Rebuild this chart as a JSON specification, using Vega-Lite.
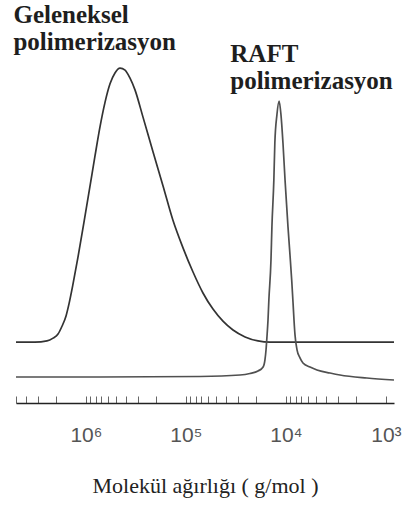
{
  "$schema": "https://vega.github.io/schema/vega-lite/v6.json",
  "width": 378,
  "height": 403,
  "autosize": "none",
  "padding": {"left": 16, "top": 0, "right": 14, "bottom": 108},
  "background": "white",
  "config": {"view": {"stroke": null}},
  "datasets": {
    "egriler": [
      {"seri": "Geleneksel", "mw": 5000000, "sinyal": 15.1},
      {"seri": "Geleneksel", "mw": 3230000, "sinyal": 15.1},
      {"seri": "Geleneksel", "mw": 2450000, "sinyal": 15.4},
      {"seri": "Geleneksel", "mw": 2130000, "sinyal": 16.1},
      {"seri": "Geleneksel", "mw": 1900000, "sinyal": 17.1},
      {"seri": "Geleneksel", "mw": 1730000, "sinyal": 19.1},
      {"seri": "Geleneksel", "mw": 1580000, "sinyal": 21.6},
      {"seri": "Geleneksel", "mw": 1476000, "sinyal": 24.6},
      {"seri": "Geleneksel", "mw": 1346000, "sinyal": 29.5},
      {"seri": "Geleneksel", "mw": 1200000, "sinyal": 36.2},
      {"seri": "Geleneksel", "mw": 1045000, "sinyal": 44.9},
      {"seri": "Geleneksel", "mw": 910000, "sinyal": 53.8},
      {"seri": "Geleneksel", "mw": 811000, "sinyal": 61.3},
      {"seri": "Geleneksel", "mw": 723000, "sinyal": 68.5},
      {"seri": "Geleneksel", "mw": 644000, "sinyal": 74.6},
      {"seri": "Geleneksel", "mw": 574000, "sinyal": 79.2},
      {"seri": "Geleneksel", "mw": 512000, "sinyal": 81.9},
      {"seri": "Geleneksel", "mw": 456000, "sinyal": 83.1},
      {"seri": "Geleneksel", "mw": 406000, "sinyal": 82.6},
      {"seri": "Geleneksel", "mw": 362000, "sinyal": 80.6},
      {"seri": "Geleneksel", "mw": 323000, "sinyal": 77.7},
      {"seri": "Geleneksel", "mw": 269000, "sinyal": 71.0},
      {"seri": "Geleneksel", "mw": 213000, "sinyal": 62.3},
      {"seri": "Geleneksel", "mw": 169000, "sinyal": 53.8},
      {"seri": "Geleneksel", "mw": 135000, "sinyal": 45.4},
      {"seri": "Geleneksel", "mw": 106900, "sinyal": 38.5},
      {"seri": "Geleneksel", "mw": 84900, "sinyal": 32.5},
      {"seri": "Geleneksel", "mw": 67500, "sinyal": 27.3},
      {"seri": "Geleneksel", "mw": 53600, "sinyal": 23.3},
      {"seri": "Geleneksel", "mw": 42600, "sinyal": 20.3},
      {"seri": "Geleneksel", "mw": 33800, "sinyal": 18.1},
      {"seri": "Geleneksel", "mw": 25600, "sinyal": 16.4},
      {"seri": "Geleneksel", "mw": 19000, "sinyal": 15.4},
      {"seri": "Geleneksel", "mw": 14400, "sinyal": 15.1},
      {"seri": "Geleneksel", "mw": 7230, "sinyal": 15.1},
      {"seri": "Geleneksel", "mw": 2290, "sinyal": 15.1},
      {"seri": "Geleneksel", "mw": 830, "sinyal": 15.1},
      {"seri": "RAFT", "mw": 5000000, "sinyal": 6.45},
      {"seri": "RAFT", "mw": 723000, "sinyal": 6.45},
      {"seri": "RAFT", "mw": 72300, "sinyal": 6.58},
      {"seri": "RAFT", "mw": 28800, "sinyal": 6.95},
      {"seri": "RAFT", "mw": 22900, "sinyal": 7.32},
      {"seri": "RAFT", "mw": 19000, "sinyal": 7.94},
      {"seri": "RAFT", "mw": 16900, "sinyal": 8.93},
      {"seri": "RAFT", "mw": 16200, "sinyal": 10.7},
      {"seri": "RAFT", "mw": 15800, "sinyal": 13.2},
      {"seri": "RAFT", "mw": 15500, "sinyal": 16.1},
      {"seri": "RAFT", "mw": 15100, "sinyal": 20.6},
      {"seri": "RAFT", "mw": 14800, "sinyal": 25.6},
      {"seri": "RAFT", "mw": 14100, "sinyal": 35.5},
      {"seri": "RAFT", "mw": 13800, "sinyal": 43.7},
      {"seri": "RAFT", "mw": 13200, "sinyal": 55.3},
      {"seri": "RAFT", "mw": 12900, "sinyal": 64.5},
      {"seri": "RAFT", "mw": 12300, "sinyal": 71.5},
      {"seri": "RAFT", "mw": 11700, "sinyal": 74.9},
      {"seri": "RAFT", "mw": 11200, "sinyal": 71.5},
      {"seri": "RAFT", "mw": 10700, "sinyal": 64.5},
      {"seri": "RAFT", "mw": 10200, "sinyal": 55.3},
      {"seri": "RAFT", "mw": 9530, "sinyal": 43.7},
      {"seri": "RAFT", "mw": 9100, "sinyal": 36.7},
      {"seri": "RAFT", "mw": 8750, "sinyal": 30.5},
      {"seri": "RAFT", "mw": 8490, "sinyal": 25.0},
      {"seri": "RAFT", "mw": 8300, "sinyal": 20.6},
      {"seri": "RAFT", "mw": 8110, "sinyal": 16.9},
      {"seri": "RAFT", "mw": 7740, "sinyal": 13.2},
      {"seri": "RAFT", "mw": 7230, "sinyal": 11.2},
      {"seri": "RAFT", "mw": 6750, "sinyal": 9.93},
      {"seri": "RAFT", "mw": 5740, "sinyal": 8.93},
      {"seri": "RAFT", "mw": 4890, "sinyal": 8.19},
      {"seri": "RAFT", "mw": 3620, "sinyal": 7.44},
      {"seri": "RAFT", "mw": 2880, "sinyal": 6.95},
      {"seri": "RAFT", "mw": 1550, "sinyal": 6.2},
      {"seri": "RAFT", "mw": 830, "sinyal": 5.71}
    ],
    "etiketler": [
      {"seri": "Geleneksel", "etiket": "Geleneksel\npolimerizasyon", "mw": 5300000, "sinyal": 94.3},
      {"seri": "RAFT", "etiket": "RAFT\npolimerizasyon", "mw": 36000, "sinyal": 84.6}
    ]
  },
  "layer": [
    {
      "data": {"name": "egriler"},
      "mark": {"type": "line", "interpolate": "monotone", "strokeWidth": 1.7},
      "encoding": {
        "x": {
          "field": "mw",
          "type": "quantitative",
          "scale": {"type": "log", "domain": [830, 5000000], "reverse": true, "nice": false},
          "axis": {
            "title": "Molekül ağırlığı ( g/mol )",
            "titleFont": "Liberation Serif",
            "titleFontSize": 22,
            "titleFontWeight": "normal",
            "titleColor": "#222222",
            "titlePadding": 30,
            "values": [5000000, 4000000, 3000000, 2000000, 1000000, 900000, 800000, 700000, 600000, 500000, 400000, 300000, 200000, 100000, 90000, 80000, 70000, 60000, 50000, 40000, 30000, 20000, 10000, 9000, 8000, 7000, 6000, 5000, 4000, 3000, 2000, 1000],
            "labelExpr": "datum.value == 1000000 ? '10⁶' : datum.value == 100000 ? '10⁵' : datum.value == 10000 ? '10⁴' : datum.value == 1000 ? '10³' : ''",
            "labelFont": "Liberation Sans",
            "labelFontSize": 21,
            "labelColor": "#555555",
            "labelPadding": 28,
            "labelOverlap": false,
            "labelFlush": false,
            "labelBound": false,
            "tickSize": -7,
            "tickColor": "#666666",
            "tickWidth": 1,
            "domainColor": "#222222",
            "domainWidth": 1.6,
            "grid": false
          }
        },
        "y": {
          "field": "sinyal",
          "type": "quantitative",
          "scale": {"domain": [0, 100], "nice": false},
          "axis": null
        },
        "order": {"field": "mw", "type": "quantitative", "sort": "descending"},
        "color": {
          "field": "seri",
          "type": "nominal",
          "scale": {"domain": ["Geleneksel", "RAFT"], "range": ["#333333", "#505050"]},
          "legend": null
        }
      }
    },
    {
      "data": {"name": "etiketler"},
      "mark": {
        "type": "text",
        "align": "left",
        "baseline": "alphabetic",
        "lineBreak": "\n",
        "lineHeight": 27,
        "font": "Liberation Serif, DejaVu Serif, serif",
        "fontSize": 25,
        "fontWeight": 700,
        "color": "#1e1e1e"
      },
      "encoding": {
        "x": {"field": "mw", "type": "quantitative"},
        "y": {"field": "sinyal", "type": "quantitative"},
        "text": {"field": "etiket", "type": "nominal"}
      }
    }
  ]
}
